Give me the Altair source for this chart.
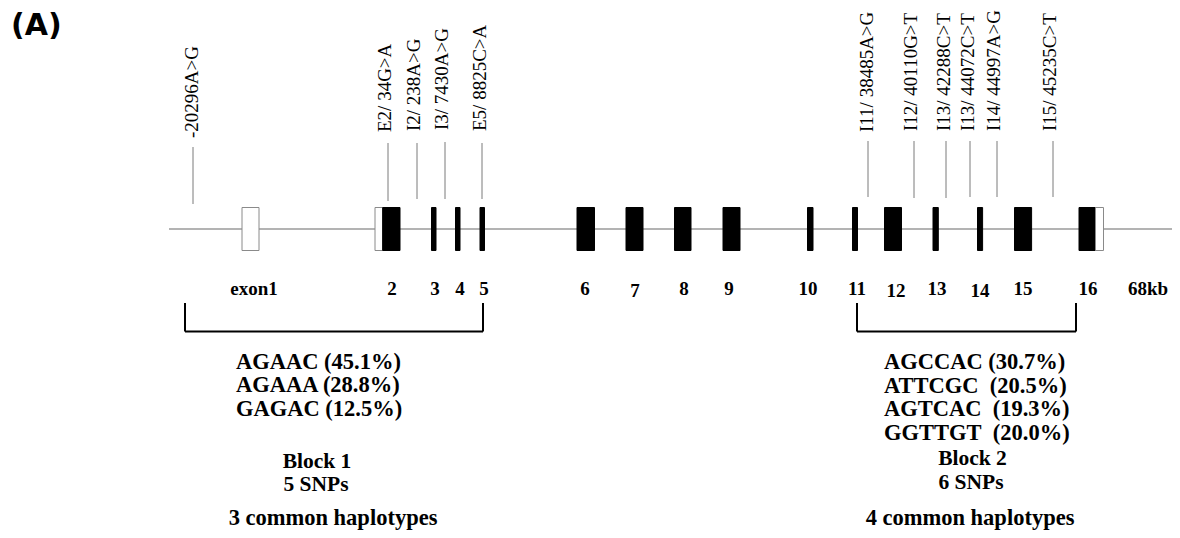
import altair as alt
import pandas as pd

# ---- data (diagram coordinates) ----
gene_start, gene_end, gene_y = [169], [1178], [229]

exon_seg_start = [242, 375, 382.7, 431.5, 455.5, 480, 577, 626, 674.5, 723, 807.5, 852.5, 884.5, 933, 977.5, 1014.5, 1079, 1095.5]
exon_seg_end = [259, 382.7, 400, 436, 460, 484.5, 594.5, 643, 691, 740, 813, 857.5, 901.5, 938.3, 982.6, 1031.6, 1095.5, 1103.5]
exon_seg_kind = ["UTR", "UTR", "CDS", "CDS", "CDS", "CDS", "CDS", "CDS", "CDS", "CDS", "CDS", "CDS", "CDS", "CDS", "CDS", "CDS", "CDS", "UTR"]
exon_top, exon_bottom = 207.5, 250.5

snp_names = ["-20296A>G", "E2/ 34G>A", "I2/ 238A>G", "I3/ 7430A>G", "E5/ 8825C>A",
             "I11/ 38485A>G", "I12/ 40110G>T", "I13/ 42288C>T", "I13/ 44072C>T", "I14/ 44997A>G", "I15/ 45235C>T"]
snp_line_x = [193, 388, 417, 445, 482, 868, 914, 946, 970, 997, 1053]
snp_line_top = [147, 143, 143, 142, 143, 141, 141, 141, 141, 141, 141]
snp_line_bottom = [204, 201, 199, 199, 199, 197, 198, 198, 197, 197, 197]
snp_label_x = [191.5, 384.5, 413.5, 441.5, 480, 866.5, 911, 943.5, 967.5, 994, 1050]
snp_label_y = [138, 132, 131, 130, 131, 132, 131, 131, 131, 131, 131]

exon_labels = ["exon1", "2", "3", "4", "5", "6", "7", "8", "9", "10", "11", "12", "13", "14", "15", "16", "68kb"]
exon_label_x = [254, 392, 435, 460, 484, 585, 635, 684, 729, 808, 857, 896, 937, 980, 1023, 1088, 1148]
exon_label_y = [289, 289, 289, 289, 289, 289, 291, 289, 289, 289, 289, 291, 289, 291, 289, 289, 289]

bracket_left = [185, 857]
bracket_right = [483, 1076]
bracket_top, bracket_bottom = 303, 331.5

hap_text = ["AGAAC (45.1%)", "AGAAA (28.8%)", "GAGAC (12.5%)",
            "AGCCAC (30.7%)", "ATTCGC\u00a0\u00a0(20.5%)", "AGTCAC\u00a0\u00a0(19.3%)", "GGTTGT\u00a0\u00a0(20.0%)"]
hap_x = [236, 236, 236, 884, 884, 884, 884]
hap_y = [361.5, 385, 408.5, 361.5, 385.5, 409, 433]

block_text = ["Block 1", "5 SNPs", "Block 2", "6 SNPs"]
block_x = [317, 316, 972.5, 971]
block_y = [461.5, 485, 459, 482.5]

common_text = ["3 common haplotypes", "4 common haplotypes"]
common_x = [333, 970]
common_y = [518, 518]

panel_text, panel_x, panel_y = ["(A)"], [11], [26]

# ---- scales in diagram coordinates ----
X = alt.Scale(domain=[8, 1172])
Y = alt.Scale(domain=[8, 530], reverse=True)
ax = None
serif = "Liberation Serif"

def xe(f):
    return alt.X(f, type="quantitative", scale=X, axis=ax)

def ye(f):
    return alt.Y(f, type="quantitative", scale=Y, axis=ax)

gene = alt.Chart(pd.DataFrame({"s": gene_start, "e": gene_end, "y": gene_y})).mark_rule(
    color="#9a9a9a", strokeWidth=1.6).encode(x=xe("s"), x2="e", y=ye("y"))

exons = alt.Chart(pd.DataFrame({"s": exon_seg_start, "e": exon_seg_end, "kind": exon_seg_kind,
                                "t": [exon_top] * len(exon_seg_start), "b": [exon_bottom] * len(exon_seg_start)})).mark_rect(
    strokeWidth=1).encode(
    x=xe("s"), x2="e", y=ye("t"), y2="b",
    fill=alt.Fill("kind:N", scale=alt.Scale(domain=["CDS", "UTR"], range=["#000000", "#ffffff"]), legend=None),
    stroke=alt.Stroke("kind:N", scale=alt.Scale(domain=["CDS", "UTR"], range=["#000000", "#8a8a8a"]), legend=None))

snp_lines = alt.Chart(pd.DataFrame({"x": snp_line_x, "t": snp_line_top, "b": snp_line_bottom})).mark_rule(
    color="#7a7a7a", strokeWidth=1).encode(x=xe("x"), y=ye("t"), y2="b")

snp_text = alt.Chart(pd.DataFrame({"x": snp_label_x, "y": snp_label_y, "t": snp_names})).mark_text(
    angle=270, align="left", baseline="middle", font=serif, fontSize=19, color="#000000").encode(
    x=xe("x"), y=ye("y"), text="t:N")

ex_text = alt.Chart(pd.DataFrame({"x": exon_label_x, "y": exon_label_y, "t": exon_labels})).mark_text(
    align="center", baseline="middle", font=serif, fontSize=19, fontWeight="bold", color="#000000").encode(
    x=xe("x"), y=ye("y"), text="t:N")

br_df = pd.DataFrame({"l": bracket_left, "r": bracket_right,
                      "t": [bracket_top] * 2, "b": [bracket_bottom] * 2})
br_left = alt.Chart(br_df).mark_rule(color="#000000", strokeWidth=2).encode(x=xe("l"), y=ye("t"), y2="b")
br_right = alt.Chart(br_df).mark_rule(color="#000000", strokeWidth=2).encode(x=xe("r"), y=ye("t"), y2="b")
br_bottom = alt.Chart(br_df).mark_rule(color="#000000", strokeWidth=2).encode(x=xe("l"), x2="r", y=ye("b"))

hap = alt.Chart(pd.DataFrame({"x": hap_x, "y": hap_y, "t": hap_text})).mark_text(
    align="left", baseline="middle", font=serif, fontSize=22.5, fontWeight="bold", color="#000000").encode(
    x=xe("x"), y=ye("y"), text="t:N")

blk = alt.Chart(pd.DataFrame({"x": block_x, "y": block_y, "t": block_text})).mark_text(
    align="center", baseline="middle", font=serif, fontSize=21.5, fontWeight="bold", color="#000000").encode(
    x=xe("x"), y=ye("y"), text="t:N")

com = alt.Chart(pd.DataFrame({"x": common_x, "y": common_y, "t": common_text})).mark_text(
    align="center", baseline="middle", font=serif, fontSize=22.5, fontWeight="bold", color="#000000").encode(
    x=xe("x"), y=ye("y"), text="t:N")

pan = alt.Chart(pd.DataFrame({"x": panel_x, "y": panel_y, "t": panel_text})).mark_text(
    align="left", baseline="middle", font="DejaVu Sans", fontSize=30, fontWeight="bold", color="#000000").encode(
    x=xe("x"), y=ye("y"), text="t:N")

chart = alt.layer(gene, exons, snp_lines, snp_text, ex_text, br_left, br_right, br_bottom,
                  hap, blk, com, pan).properties(
    width=1164, height=522, padding=0, autosize=alt.AutoSizeParams(type="none"),
    background="#ffffff").configure_view(stroke=None)

chart.save("out.html", embed_options={"renderer": "svg", "actions": False})
